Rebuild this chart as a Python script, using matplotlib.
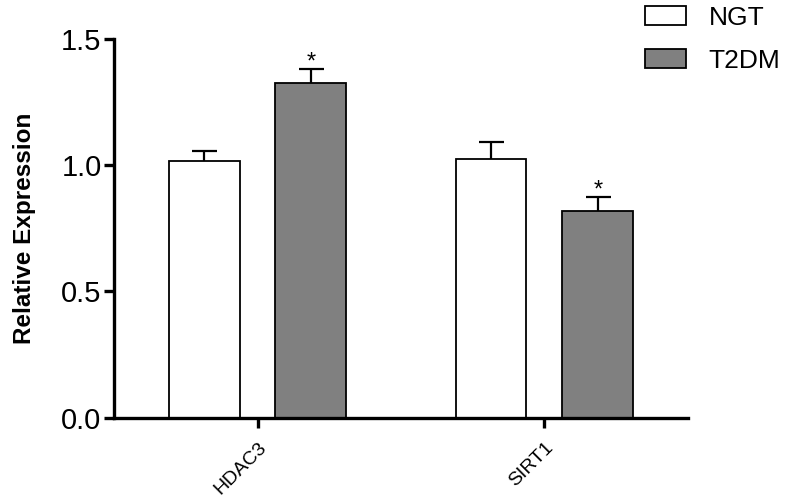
import numpy as np
from matplotlib import pyplot as plt
from matplotlib.patches import Patch

plt.rcParams['font.family'] = ['Liberation Sans', 'DejaVu Sans']

genes = ["HDAC3", "SIRT1"]
groups = ["NGT", "T2DM"]
ngt_mean = [1.017, 1.025]
ngt_err = [0.04, 0.068]
t2dm_mean = [1.326, 0.819]
t2dm_err = [0.055, 0.055]
t2dm_star = ["*", "*"]

fig = plt.figure(figsize=(7.87, 4.98), dpi=100)
ax = fig.add_axes([0.145, 0.161, 0.729, 0.761])

x = np.arange(len(genes))
off = 0.186
w = 0.247
lw_axis = 2.4
ekw = dict(elinewidth=1.6, capsize=9, capthick=1.6, zorder=1)

# error bars drawn below the bars, so only the upper half shows
ax.bar(x - off, ngt_mean, w, yerr=ngt_err, color="white", edgecolor="black",
       linewidth=1.3, error_kw=ekw, label=groups[0], zorder=2)
ax.bar(x + off, t2dm_mean, w, yerr=t2dm_err, color="#808080", edgecolor="black",
       linewidth=1.3, error_kw=ekw, label=groups[1], zorder=2)

for i in range(len(genes)):
    ax.text(x[i] + off, t2dm_mean[i] + t2dm_err[i] + 0.025, t2dm_star[i],
            ha="center", va="center", fontsize=17)

ax.set_xlim(-0.5, 1.5)
ax.set_ylim(0, 1.5)
ax.set_yticks([0.0, 0.5, 1.0, 1.5])
ax.set_yticklabels(["0.0", "0.5", "1.0", "1.5"], fontsize=21)
ax.set_xticks(x)
ax.set_xticklabels(genes, rotation=45, ha="right", rotation_mode="anchor",
                   fontsize=14)
ax.set_ylabel("Relative Expression", fontsize=17.5, fontweight="bold",
              labelpad=18)

for s in ["top", "right"]:
    ax.spines[s].set_visible(False)
for s in ["left", "bottom"]:
    ax.spines[s].set_linewidth(lw_axis)
ax.tick_params(axis="both", width=lw_axis, length=7, direction="out")
ax.tick_params(axis="y", pad=2)
ax.tick_params(axis="x", pad=8)

handles = [Patch(facecolor="white", edgecolor="black", linewidth=1.3),
           Patch(facecolor="#808080", edgecolor="black", linewidth=1.3)]
fig.legend(handles, groups, loc="upper left", bbox_to_anchor=(0.79, 1.036),
           frameon=False, fontsize=19, handlelength=1.55, handleheight=0.72,
           labelspacing=0.72, handletextpad=0.85)

fig.savefig("out.png", dpi=100)
